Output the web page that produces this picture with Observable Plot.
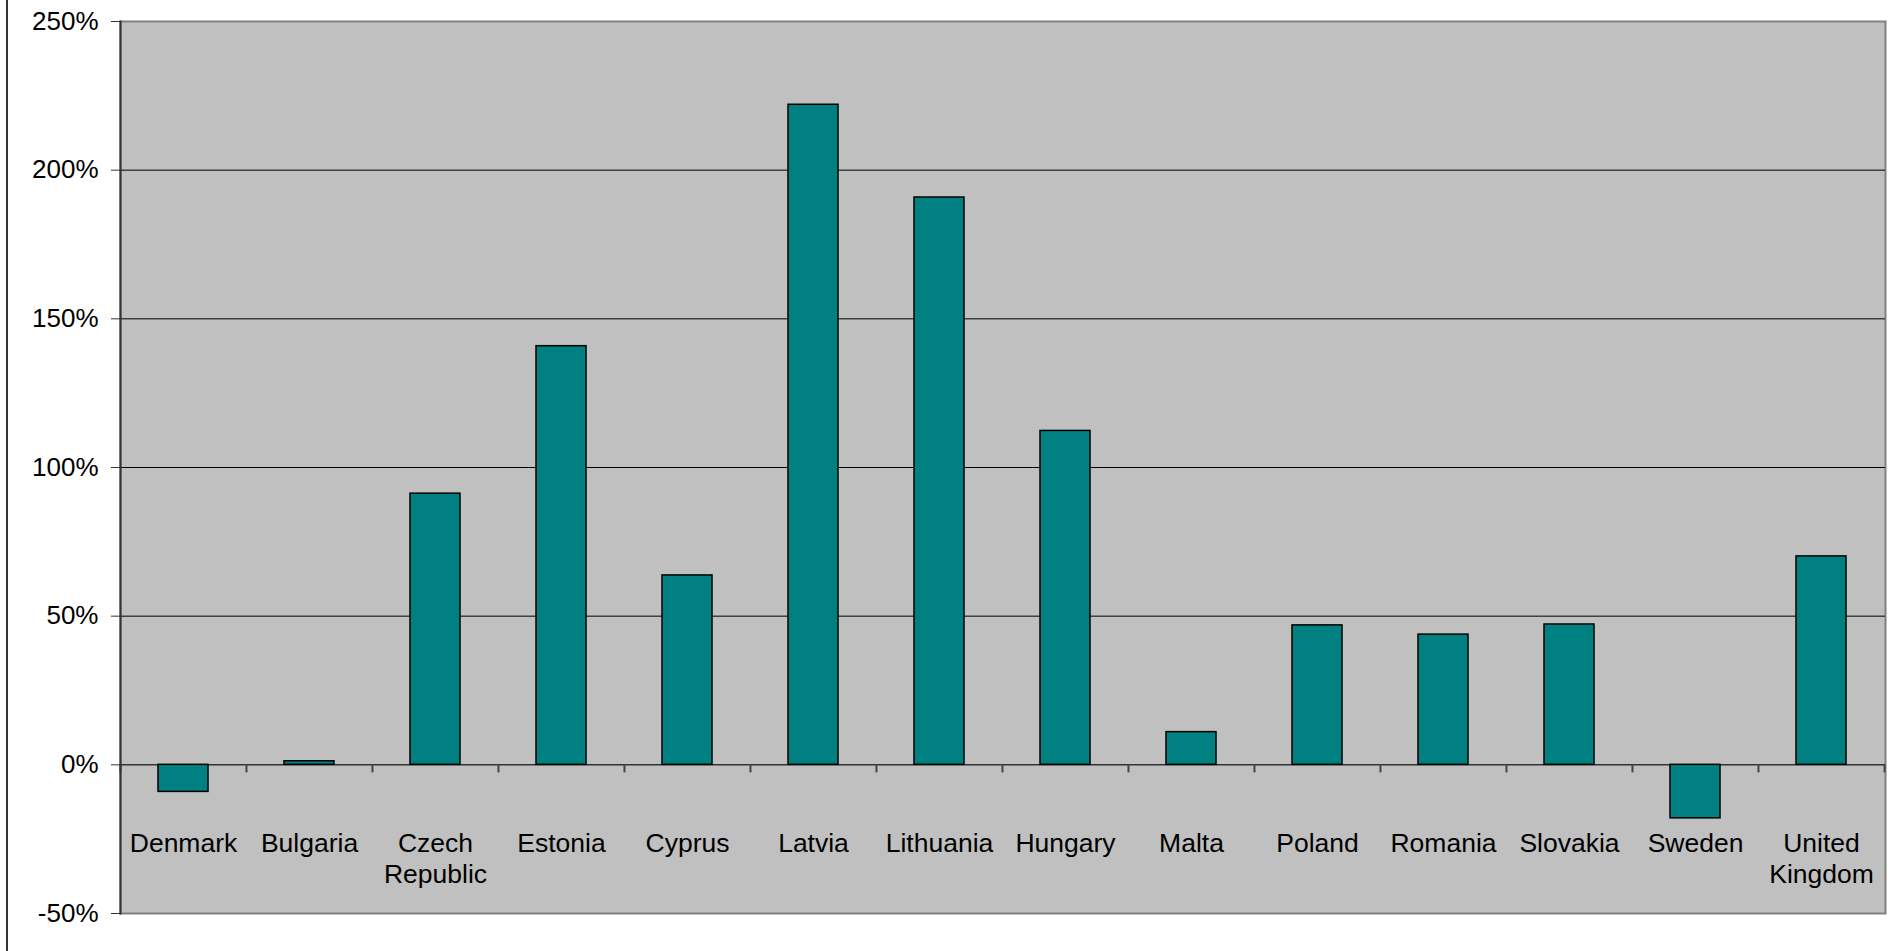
<!DOCTYPE html>
<html>
<head>
<meta charset="utf-8">
<script src="https://cdn.jsdelivr.net/npm/d3@7"></script>
<script src="https://cdn.jsdelivr.net/npm/@observablehq/plot@0.6"></script>
<style>
  html, body { margin: 0; padding: 0; background: #fff; }
  #wrap { position: relative; width: 1901px; height: 951px; overflow: hidden; }
  #edge { position: absolute; left: 6px; top: 0; width: 2px; height: 951px; background: #333; }
  svg { display: block; }
</style>
</head>
<body>
<div id="wrap"><div id="edge"></div></div>
<script>
const countries = ["Denmark", "Bulgaria", "Czech\nRepublic", "Estonia", "Cyprus", "Latvia", "Lithuania", "Hungary", "Malta", "Poland", "Romania", "Slovakia", "Sweden", "United\nKingdom"];
const changes = [-9.1, 1.2, 91.2, 140.8, 63.7, 222.0, 190.8, 112.3, 11.0, 46.9, 43.8, 47.2, -18.0, 70.1];
const yTicks = [-50, 0, 50, 100, 150, 200, 250];
const gridValues = [50, 100, 150, 200];

const data = countries.map((c, i) => ({country: c, value: changes[i]}));

const W = 1901, H = 951;
const mL = 120, mR = 16, mT = 21, mB = 38;
const step = (W - mL - mR) / countries.length;
const font = "'Liberation Sans', Arial, sans-serif";

const chart = Plot.plot({
  width: W,
  height: H,
  marginLeft: mL,
  marginRight: mR,
  marginTop: mT,
  marginBottom: mB,
  style: {fontFamily: font, fontSize: "26px", color: "#000", background: "transparent"},
  x: {domain: countries, paddingInner: 0.6, paddingOuter: 0.3, axis: null},
  y: {domain: [-50, 250], axis: null},
  marks: [
    Plot.frame({fill: "#c0c0c0", stroke: "#808080", strokeWidth: 2}),
    Plot.ruleY(gridValues, {stroke: "#000", strokeWidth: 1}),
    Plot.ruleY([0], {stroke: "#333", strokeWidth: 1.5}),
    Plot.ruleX(countries, {x: d => d, y1: 0, y2: -2.7, dx: -step / 2, stroke: "#444", strokeWidth: 2}),
    Plot.ruleX(countries.slice(-1), {x: d => d, y1: 0, y2: -2.7, dx: step / 2, stroke: "#444", strokeWidth: 2}),
    Plot.barY(data, {x: "country", y: "value", fill: "#008080", stroke: "#000", strokeWidth: 1.5}),
    Plot.frame({anchor: "left", stroke: "#333", strokeWidth: 2}),
    Plot.axisY({ticks: yTicks, tickSize: 9, tickPadding: 13, tickFormat: d => d + "%", fontSize: 26, stroke: "#333", label: null}),
    Plot.axisX({anchor: "bottom", tickSize: 0, tickPadding: 0, dy: -84, fontSize: 26.5, lineHeight: 1.18, tickFormat: d => d, label: null})
  ]
});

document.getElementById("wrap").appendChild(chart);
</script>
</body>
</html>
